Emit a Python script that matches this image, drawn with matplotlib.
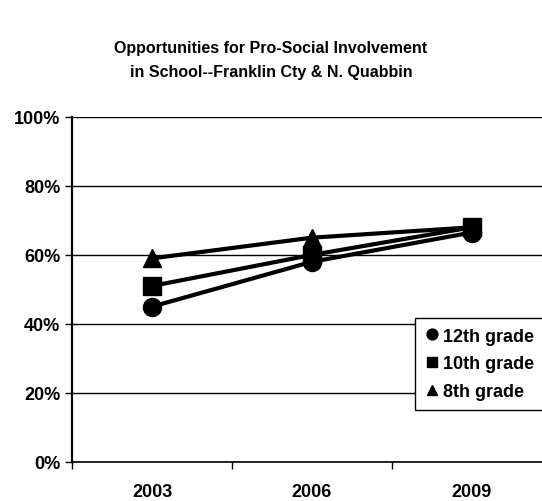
import numpy as np
import matplotlib
matplotlib.use('Agg')
from matplotlib import pyplot as plt
from matplotlib.ticker import FixedLocator, PercentFormatter

years = ['2003', '2006', '2009']
grade12 = [45, 58, 66.5]
grade10 = [51, 60, 68]
grade8 = [59, 65, 68]

series = [('12th grade', grade12, 'o'),
          ('10th grade', grade10, 's'),
          ('8th grade', grade8, '^')]

plt.rcParams['font.family'] = ['Liberation Sans', 'DejaVu Sans']

fig = plt.figure(figsize=(5.42, 5.02), dpi=100)
ax = fig.add_axes([0.133, 0.078, 0.867, 0.687])

x = np.arange(len(years))
for label, vals, marker in series:
    ax.plot(x, vals, color='black', linewidth=3, marker=marker,
            markersize=13, label=label, clip_on=False)

ax.set_ylim(0, 100)
ax.set_xlim(-0.5, 2.44)
ax.set_yticks(np.arange(0, 101, 20))
ax.yaxis.set_major_formatter(PercentFormatter(decimals=0))
ax.yaxis.grid(True, color='black', linewidth=1.0)
ax.set_axisbelow(True)

ax.set_xticks(x)
ax.set_xticklabels(years)
ax.xaxis.set_minor_locator(FixedLocator([-0.5, 0.5, 1.5]))
ax.tick_params(axis='x', which='major', length=0, pad=15)
ax.tick_params(axis='x', which='minor', length=5, width=1, direction='out')
ax.tick_params(axis='y', length=5, width=1, direction='out', pad=3.5)
for lab in ax.get_xticklabels() + ax.get_yticklabels():
    lab.set_fontweight('bold')
    lab.set_fontsize(13)

ax.spines['top'].set_visible(False)
ax.spines['right'].set_visible(False)
ax.spines['left'].set_linewidth(1.6)
ax.spines['bottom'].set_linewidth(1.2)

leg = ax.legend(loc='lower right', bbox_to_anchor=(1.005, 0.15), frameon=True,
                fancybox=False, edgecolor='black', handlelength=0.7,
                handletextpad=0.3, borderpad=0.55, labelspacing=0.6,
                borderaxespad=0, markerscale=0.6,
                prop={'weight': 'bold', 'size': 13}, framealpha=1)
leg.get_frame().set_linewidth(1.0)
for h in leg.legend_handles:
    h.set_linestyle('none')

fig.text(0.5, 1 - 48 / 502, 'Opportunities for Pro-Social Involvement',
         ha='center', va='center', fontsize=11.5, fontweight='bold')
fig.text(0.5, 1 - 72 / 502, 'in School--Franklin Cty & N. Quabbin',
         ha='center', va='center', fontsize=11.5, fontweight='bold')

fig.savefig('out.png', dpi=100)
